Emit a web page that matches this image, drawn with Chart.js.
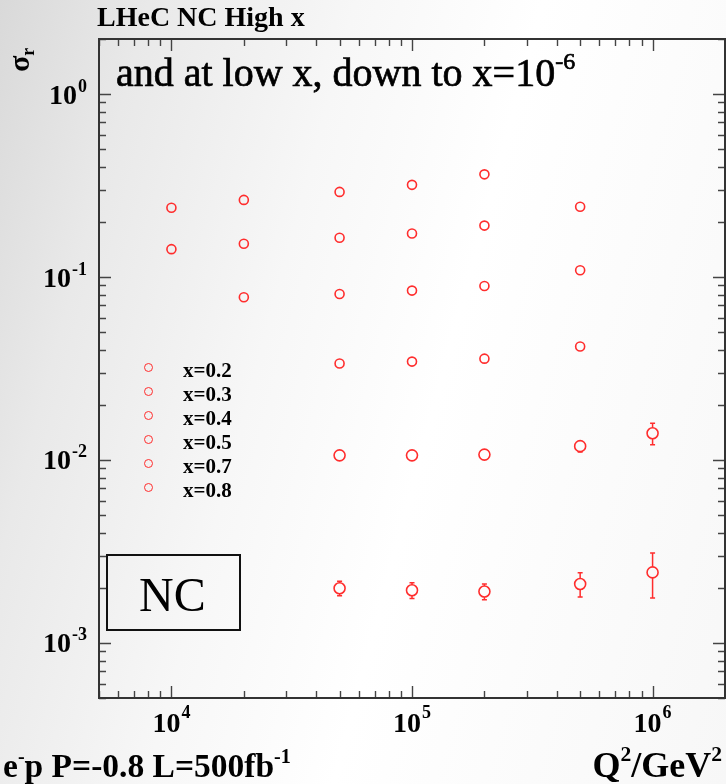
<!DOCTYPE html>
<html>
<head>
<meta charset="utf-8">
<script src="https://cdn.jsdelivr.net/npm/chart.js@4.4.1/dist/chart.umd.min.js"></script>
<style>
  html, body { margin: 0; padding: 0; }
  #wrap {
    position: relative; width: 726px; height: 784px; overflow: hidden;
    background: linear-gradient(105deg, #d9d9d9 0%, #e9e9e9 16%, #f7f7f7 38%, #ffffff 58%, #f7f7f7 100%);
  }
  #c { position: absolute; left: 0; top: 0; }
  .txt { position: absolute; font-family: "Liberation Serif", serif; color: #000; white-space: nowrap; line-height: 1; }
  .b { font-weight: bold; }
  .sup { font-size: 60%; position: relative; top: -0.72em; }
  .dot { position: absolute; width: 7px; height: 7px; border: 1.6px solid #ff2d2d; border-radius: 50%; }
  #ncbox { position: absolute; left: 106px; top: 554px; width: 131px; height: 73px; border: 2.5px solid #111; }
</style>
</head>
<body>
<div id="wrap">
  <canvas id="c" width="726" height="784"></canvas>

  <div class="txt b" style="left:97px; top:3px; font-size:28px;">LHeC NC High x</div>
  <div class="txt b" style="left:4px; top:72px; font-size:30px; transform:rotate(-90deg); transform-origin:0 0;">σ<span style="font-size:60%; position:relative; top:0.3em;">r</span></div>
  <div class="txt" style="left:116px; top:53px; font-size:40px; -webkit-text-stroke:0.7px #000;">and at low x, down to x=10<span class="sup">-6</span></div>

  <div id="legend"></div>

  <div id="ncbox"></div>
  <div class="txt" style="left:139px; top:571px; font-size:48px;">NC</div>

  <div class="txt b" style="left:3px; top:749px; font-size:33.5px;">e<span class="sup">-</span>p P=-0.8 L=500fb<span class="sup">-1</span></div>
  <div class="txt b" style="right:4px; top:747px; font-size:36px;">Q<span class="sup">2</span>/GeV<span class="sup">2</span></div>
</div>

<script>
// Q^2 points (GeV^2)
const q2 = [1e4, 2e4, 5e4, 1e5, 2e5, 5e5, 1e6];

// reduced cross section per x bin (null = no point)
const sigmaX02 = [0.239, 0.264, 0.292, 0.319, 0.364, null, null];
const sigmaX03 = [0.142, 0.152, 0.164, 0.173, 0.191, 0.242, null];
const sigmaX04 = [null, 0.0775, 0.0808, 0.0843, 0.0894, 0.109, null];
const sigmaX05 = [null, null, 0.0337, 0.0345, 0.0358, 0.0417, null];
const sigmaX07 = [null, null, 0.0106, 0.0106, 0.0107, 0.0119, 0.0140];
const sigmaX08 = [null, null, 0.00199, 0.00194, 0.00191, 0.00210, 0.00243];

// errors (only visible at high x)
const errX07 = [null, null, 0.0004, 0.0004, 0.0004, 0.00085, 0.0019];
const errX08 = [null, null, 0.00018, 0.00019, 0.00019, 0.00032, 0.00067];

const xLabels = ["x=0.2", "x=0.3", "x=0.4", "x=0.5", "x=0.7", "x=0.8"];
const xTickExp = [4, 5, 6];
const yTickExp = [0, -1, -2, -3];

const RED = "#ff2d2d";

function toPoints(vals, errs) {
  const pts = [];
  q2.forEach(function (q, i) {
    if (vals[i] == null) return;
    pts.push({ x: q, y: vals[i], err: errs ? errs[i] : null });
  });
  return pts;
}

function series(label, vals, errs, r) {
  return {
    label: label,
    data: toPoints(vals, errs),
    showLine: false,
    pointStyle: "circle",
    pointRadius: r,
    pointBorderWidth: 1.6,
    pointBorderColor: RED,
    pointBackgroundColor: "rgba(0,0,0,0)",
    borderColor: RED,
  };
}

// legend (html, inside the plot)
const legendEl = document.getElementById("legend");
xLabels.forEach(function (lab, i) {
  const cy = 368.3 + i * 24;
  const d = document.createElement("div");
  d.className = "dot";
  d.style.left = (149.3 - 5.1) + "px";
  d.style.top = (cy - 5.1) + "px";
  legendEl.appendChild(d);
  const t = document.createElement("div");
  t.className = "txt b";
  t.style.fontSize = "21px";
  t.style.left = "183px";
  t.style.top = (cy - 8.8) + "px";
  t.textContent = lab;
  legendEl.appendChild(t);
});

// frame, inward log ticks and 10^n labels
const framePlugin = {
  id: "frame",
  afterDatasetsDraw: function (chart) {
    const ctx = chart.ctx;
    const ys = chart.scales.y;
    ctx.save();
    ctx.strokeStyle = RED;
    ctx.lineWidth = 1.5;
    chart.data.datasets.forEach(function (ds, i) {
      const meta = chart.getDatasetMeta(i);
      ds.data.forEach(function (p, j) {
        if (!p.err) return;
        const el = meta.data[j];
        const r = ds.pointRadius;
        const yHi = ys.getPixelForValue(p.y + p.err);
        const yLo = ys.getPixelForValue(p.y - p.err);
        ctx.beginPath();
        if (yHi < el.y - r) {
          ctx.moveTo(el.x, yHi); ctx.lineTo(el.x, el.y - r);
          ctx.moveTo(el.x - 2.5, yHi); ctx.lineTo(el.x + 2.5, yHi);
        }
        if (yLo > el.y + r) {
          ctx.moveTo(el.x, el.y + r); ctx.lineTo(el.x, yLo);
          ctx.moveTo(el.x - 2.5, yLo); ctx.lineTo(el.x + 2.5, yLo);
        }
        ctx.stroke();
      });
    });
    ctx.restore();
  },
  afterDraw: function (chart) {
    const ctx = chart.ctx;
    const a = chart.chartArea;
    const xs = chart.scales.x;
    const ys = chart.scales.y;
    ctx.save();

    // ticks
    ctx.strokeStyle = "#444";
    ctx.lineWidth = 1.4;
    ctx.beginPath();
    for (let e = 3; e <= 6; e++) {
      for (let m = 1; m <= 9; m++) {
        const v = m * Math.pow(10, e);
        if (v < xs.min || v > xs.max) continue;
        const px = Math.round(xs.getPixelForValue(v)) + 0.5;
        const len = m === 1 ? 12 : 7;
        ctx.moveTo(px, a.bottom); ctx.lineTo(px, a.bottom - len);
        ctx.moveTo(px, a.top); ctx.lineTo(px, a.top + len);
      }
    }
    for (let e = -4; e <= 0; e++) {
      for (let m = 1; m <= 9; m++) {
        const v = m * Math.pow(10, e);
        if (v < ys.min || v > ys.max) continue;
        const py = Math.round(ys.getPixelForValue(v)) + 0.5;
        const len = m === 1 ? 12 : 7;
        ctx.moveTo(a.left, py); ctx.lineTo(a.left + len, py);
        ctx.moveTo(a.right, py); ctx.lineTo(a.right - len, py);
      }
    }
    ctx.stroke();

    // frame
    ctx.strokeStyle = "#333";
    ctx.lineWidth = 2;
    ctx.strokeRect(a.left, a.top, a.right - a.left, a.bottom - a.top);

    // labels
    ctx.fillStyle = "#000";
    const big = 'bold 28px "Liberation Serif"';
    const small = 'bold 18px "Liberation Serif"';
    ctx.textBaseline = "alphabetic";
    ctx.textAlign = "left";
    ctx.font = big;
    const w10 = ctx.measureText("10").width;

    yTickExp.forEach(function (e) {
      const py = ys.getPixelForValue(Math.pow(10, e));
      const s = String(e);
      ctx.font = small;
      const we = ctx.measureText(s).width;
      const x0 = 87 - w10 - we - 1;
      ctx.font = big;
      ctx.fillText("10", x0, py + 9.5);
      ctx.font = small;
      ctx.fillText(s, x0 + w10 + 1, py - 2.5);
    });

    xTickExp.forEach(function (e) {
      const px = xs.getPixelForValue(Math.pow(10, e));
      const s = String(e);
      ctx.font = small;
      const we = ctx.measureText(s).width;
      const x0 = px - (w10 + we + 1) / 2;
      ctx.font = big;
      ctx.fillText("10", x0, a.bottom + 34);
      ctx.font = small;
      ctx.fillText(s, x0 + w10 + 1, a.bottom + 20);
    });

    ctx.restore();
  },
};

new Chart(document.getElementById("c"), {
  type: "scatter",
  data: {
    datasets: [
      series("x=0.2", sigmaX02, null, 4.5),
      series("x=0.3", sigmaX03, null, 4.5),
      series("x=0.4", sigmaX04, null, 4.5),
      series("x=0.5", sigmaX05, null, 4.5),
      series("x=0.7", sigmaX07, errX07, 5.5),
      series("x=0.8", sigmaX08, errX08, 5.5),
    ],
  },
  options: {
    responsive: false,
    devicePixelRatio: 1,
    animation: false,
    layout: { autoPadding: false, padding: { left: 99, top: 39, right: 1, bottom: 86 } },
    plugins: { legend: { display: false }, tooltip: { enabled: false } },
    scales: {
      x: { type: "logarithmic", min: 5000, max: 2e6, display: false },
      y: { type: "logarithmic", min: 5e-4, max: 2, display: false },
    },
  },
  plugins: [framePlugin],
});
</script>
</body>
</html>
